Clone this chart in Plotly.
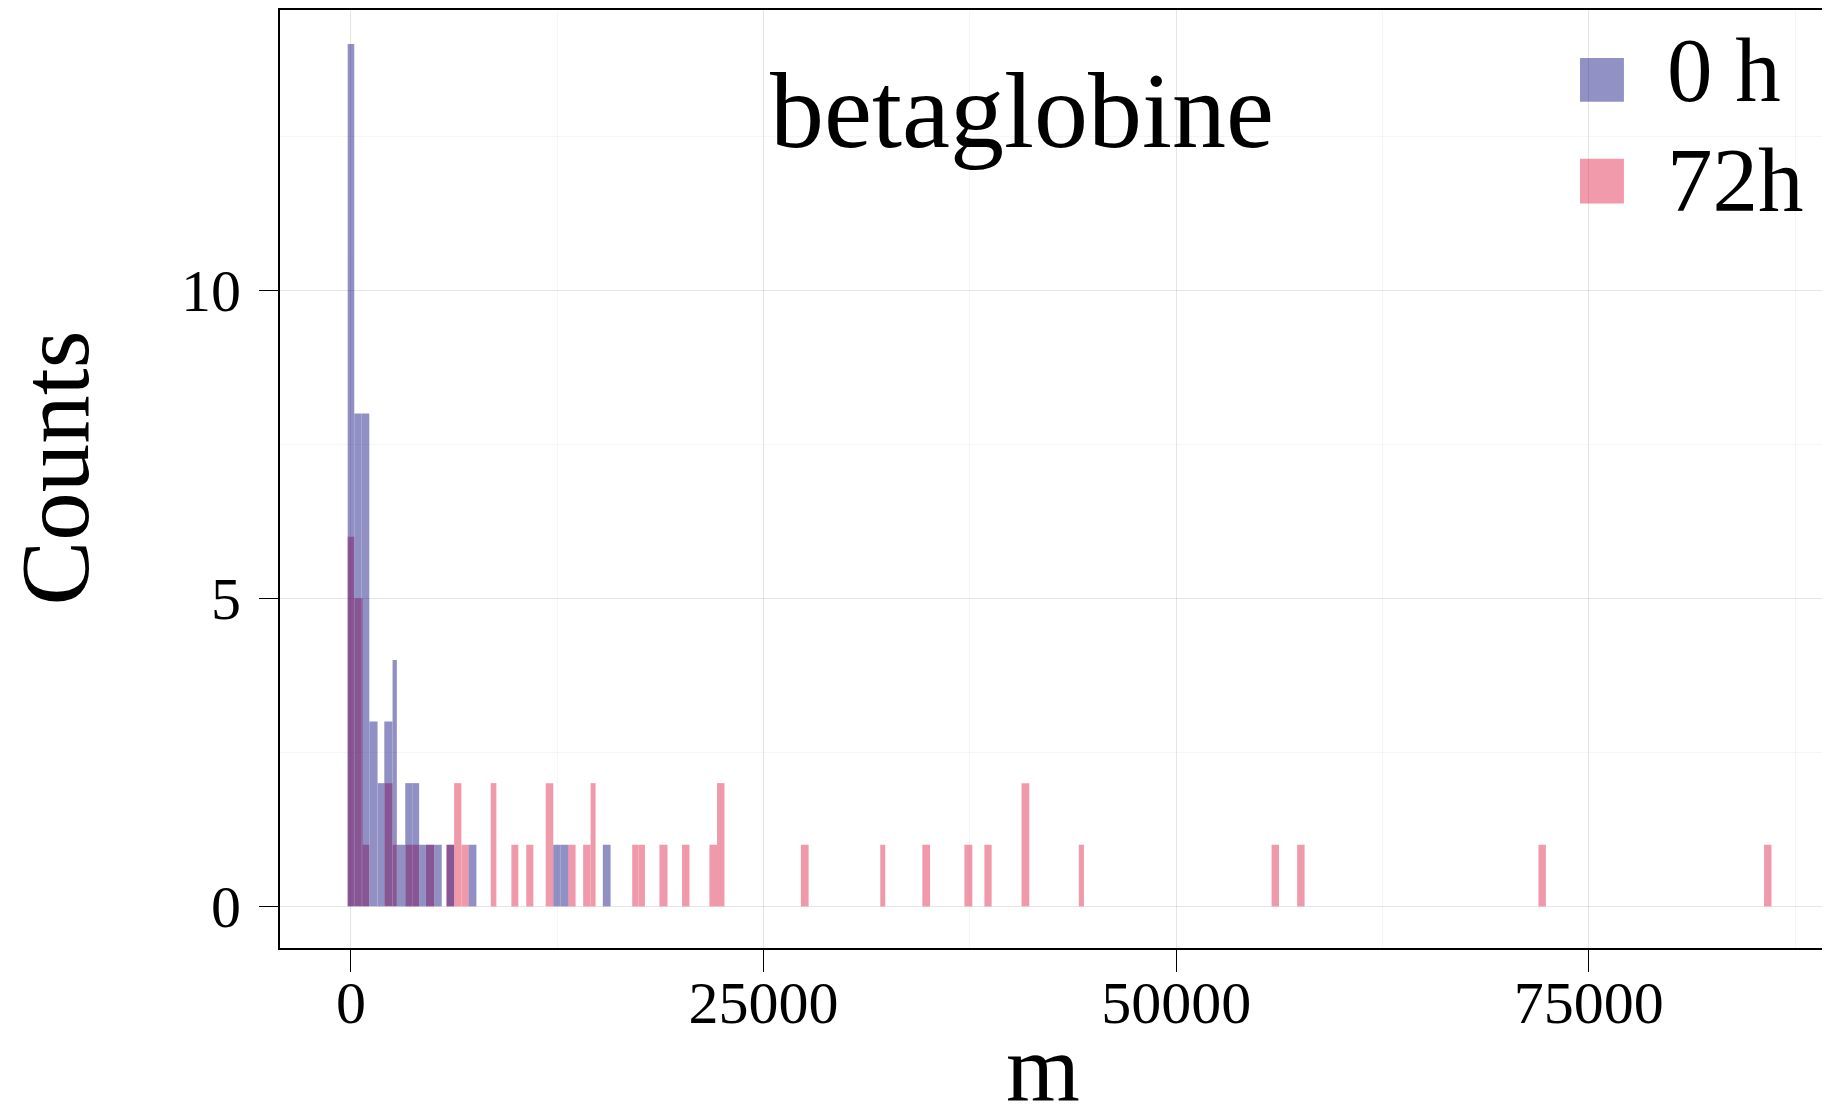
import plotly.graph_objects as go

# ---- data (histogram bins) ----
series_names = ["0 h", "72h"]

h0_lo = [-200, 200, 650, 1110, 1610, 2020, 2520, 2780, 3290, 3710, 4130, 4540, 5040, 5790, 7130, 12260, 12710, 15260]
h0_hi = [200, 650, 1110, 1610, 2020, 2520, 2780, 3290, 3710, 4130, 4540, 5040, 5500, 6250, 7600, 12710, 13170, 15730]
h0_n = [14, 8, 8, 3, 2, 3, 4, 1, 2, 2, 1, 1, 1, 1, 1, 1, 1, 1]

h72_lo = [-200, 200, 700, 2020, 2520, 3290, 3710, 4540, 5790, 6250, 6690, 8470, 9720, 10620, 11800, 13170,
          14070, 14520, 17040, 17420, 18690, 20060, 21720, 22180, 27260, 32070, 34620, 37170, 38380, 40630,
          44100, 55780, 57330, 71950, 85620]
h72_hi = [200, 700, 1110, 2520, 2780, 3710, 4130, 5040, 6250, 6690, 7130, 8810, 10140, 11050, 12260, 13610,
          14520, 14820, 17420, 17810, 19180, 20510, 22180, 22630, 27730, 32370, 35090, 37650, 38820, 41100,
          44410, 56230, 57780, 72400, 86070]
h72_n = [6, 5, 1, 2, 1, 1, 1, 1, 1, 2, 1, 2, 1, 1, 2, 1, 1, 2, 1, 1, 1, 1, 1, 2, 1, 1, 1, 1, 1, 2,
         1, 1, 1, 1, 1]

x_ticks = [0, 25000, 50000, 75000]
y_ticks = [0, 5, 10]
title_text = "betaglobine"
x_label = "m"
y_label = "Counts"

# ---- style ----
FONT = "Liberation Serif"
COL_0 = "rgb(0,0,120)"
COL_72 = "rgb(220,20,60)"
ALPHA = 0.43


def centers(lo, hi):
    return [(a + b) / 2 for a, b in zip(lo, hi)]


def widths(lo, hi):
    return [b - a for a, b in zip(lo, hi)]


fig = go.Figure()
fig.add_trace(go.Bar(x=centers(h72_lo, h72_hi), y=h72_n, width=widths(h72_lo, h72_hi),
                     name=series_names[1], marker=dict(color=COL_72, line=dict(width=0)),
                     opacity=ALPHA, showlegend=False))
fig.add_trace(go.Bar(x=centers(h0_lo, h0_hi), y=h0_n, width=widths(h0_lo, h0_hi),
                     name=series_names[0], marker=dict(color=COL_0, line=dict(width=0)),
                     opacity=ALPHA, showlegend=False))

grid_major = "rgba(0,0,0,0.065)"
grid_minor = "rgba(0,0,0,0.035)"

fig.update_layout(
    width=1830, height=1114,
    margin=dict(l=272, r=0, t=0, b=174),
    paper_bgcolor="white", plot_bgcolor="white",
    barmode="overlay",
    font=dict(family=FONT, color="black"),
    xaxis=dict(
        range=[-4300, 90100], tickmode="array", tickvals=x_ticks, tickformat="d",
        showline=True, linecolor="black", linewidth=2, mirror=True,
        ticks="outside", ticklen=22, tickwidth=1.2, tickcolor="black",
        tickfont=dict(family=FONT, size=60), ticklabelstandoff=-21,
        showgrid=True, gridcolor=grid_major, gridwidth=1, zeroline=False,
        minor=dict(dtick=12500, tick0=0, showgrid=True, gridcolor=grid_minor, ticks=""),
    ),
    yaxis=dict(
        range=[-0.676, 14.55], tickmode="array", tickvals=y_ticks,
        showline=True, linecolor="black", linewidth=2, mirror=False,
        ticks="outside", ticklen=19, tickwidth=1.2, tickcolor="black",
        tickfont=dict(family=FONT, size=60), ticklabelstandoff=6,
        showgrid=True, gridcolor=grid_major, gridwidth=1, zeroline=False,
        minor=dict(dtick=2.5, tick0=0, showgrid=True, gridcolor=grid_minor, ticks=""),
    ),
)

# title and axis labels
fig.add_annotation(text=title_text, xref="paper", yref="paper", x=0.4761, y=0.8926,
                   xanchor="center", yanchor="middle", showarrow=False,
                   font=dict(family=FONT, size=108))
fig.add_annotation(text=x_label, xref="paper", yref="paper", x=0.4897, y=-0.128,
                   xanchor="center", yanchor="middle", showarrow=False,
                   font=dict(family=FONT, size=95))
fig.add_annotation(text=y_label, xref="paper", yref="paper", x=-0.1440, y=0.5119,
                   xanchor="center", yanchor="middle", textangle=-90, showarrow=False,
                   font=dict(family=FONT, size=97))

# legend (large swatches)
legend_rows = [(series_names[0], COL_0, 0.9489, 0.9021, 0.9357),
               (series_names[1], COL_72, 0.8415, 0.7936, 0.8183)]
for name, col, y1, y0, ytxt in legend_rows:
    fig.add_shape(type="rect", xref="paper", yref="paper", x0=0.8344, x1=0.8626, y0=y0, y1=y1,
                  fillcolor=col, opacity=ALPHA, line=dict(width=0))
    fig.add_annotation(text=name, xref="paper", yref="paper", x=0.889, y=ytxt,
                       xanchor="left", yanchor="middle", showarrow=False,
                       font=dict(family=FONT, size=91))

fig.write_html("out.html")
